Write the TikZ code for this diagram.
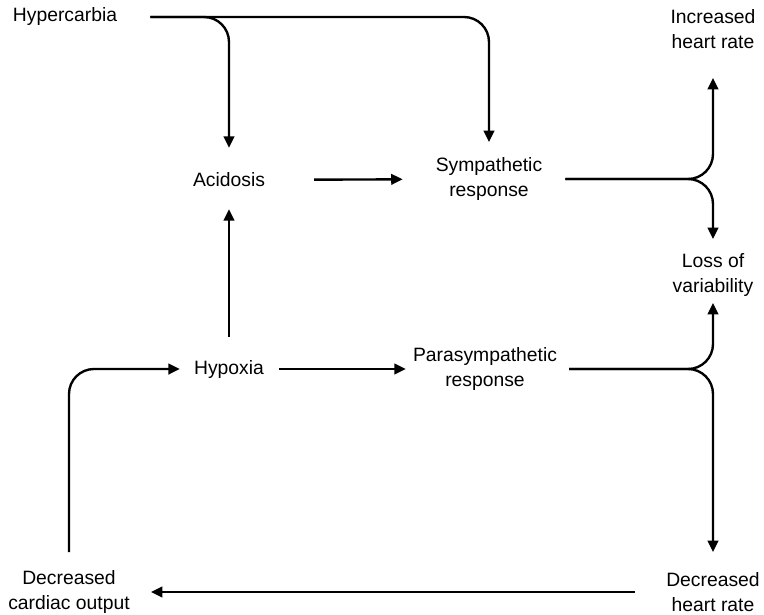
\documentclass[tikz,border=0pt]{standalone}
\usepackage{fontspec}
\setmainfont{Liberation Sans}
\usetikzlibrary{arrows.meta}
\begin{document}
\begin{tikzpicture}[x=0.02cm,y=-0.02cm,
    every node/.style={align=center,inner sep=0pt,font=\fontsize{11}{14.5}\selectfont},
    >={Triangle[length=6.5pt,width=6pt]},
    line width=1.35pt]
      \useasboundingbox (0,0) rectangle (764,615);
      \draw
        (65,17) node (hyper){Hypercarbia}
        (229,180) node (acid){Acidosis}
        (489,179) node (symp){Sympathetic\\response}
        (713,29) node (incHR){Increased\\heart rate}
        (713,275) node (loss){Loss of\\variability}
        (229,369) node (hypox){Hypoxia}
        (485,369) node (para){Parasympathetic\\response}
        (713,592) node (decHR){Decreased\\heart rate}
        (69,592) node (decCO){Decreased\\cardiac output};
      \begin{scope}[->,rounded corners=0.5cm]
        \draw[shorten <=0.64cm,shorten >=0.28cm] (hyper.east) -| (symp.north);
        \draw[shorten <=0.64cm,shorten >=0.48cm] (hyper.east) -| (acid.north);
        \draw[shorten <=0.96cm,shorten >=0.64cm] (acid) -- (symp);
        \draw[shorten <=0.44cm,shorten >=0.42cm] (hypox) -- (acid);
        \draw[shorten <=0.28cm,shorten >=0.12cm] (hypox) -- (para);
        \draw[shorten <=0.44cm,shorten >=0.56cm] (symp.east) -| (incHR.south);
        \draw[shorten <=0.44cm,shorten >=0.26cm] (symp.east) -| (loss.north);
        \draw[shorten <=0.22cm,shorten >=0.10cm] (para.east) -| (loss.south);
        \draw[shorten <=0.22cm,shorten >=0.38cm] (para.east) -| (decHR.north);
        \draw[shorten <=0.60cm,shorten >=0.40cm] (decHR) -- (decCO);
        \draw[shorten <=0.34cm,shorten >=0.26cm] (decCO.north) |- (hypox.west);
      \end{scope}
    \end{tikzpicture}
\end{document}
